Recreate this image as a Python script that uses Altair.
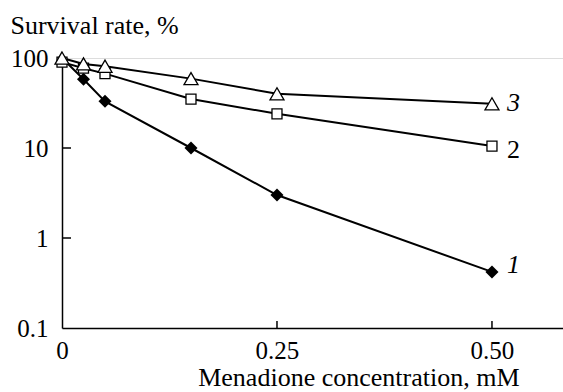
import altair as alt
import pandas as pd

# ---- data ----
conc = [0, 0.025, 0.05, 0.15, 0.25, 0.5]
s1 = [100, 58, 33, 10, 3.0, 0.42]      # curve 1 (filled diamonds)
s2 = [90, 77, 67, 35, 24, 10.5]        # curve 2 (open squares)
s3 = [100, 86, 81, 59, 40, 31]         # curve 3 (open triangles)

label_text = ["1", "2", "3"]
label_x = [0.525, 0.525, 0.525]
label_y = [0.5, 9.5, 32]

x_ticks = [0.25, 0.5]
y_ticks = [1, 10]

rows = []
for name, vals in (("1", s1), ("2", s2), ("3", s3)):
    for c, v in zip(conc, vals):
        rows.append({"conc": c, "rate": v, "series": name})
df = pd.DataFrame(rows)
labels = pd.DataFrame({"text": label_text, "conc": label_x, "rate": label_y})
xt = pd.DataFrame({"conc": x_ticks})
yt = pd.DataFrame({"rate": y_ticks})

FONT = "'Liberation Serif', 'Times New Roman', serif"
W, H = 501, 270

xscale = alt.Scale(domain=[0, 0.5826], nice=False, zero=False)
yscale = alt.Scale(type="log", domain=[0.1, 100], nice=False)

X = alt.X("conc:Q", scale=xscale, axis=alt.Axis(
    values=[0, 0.25, 0.5],
    labelExpr="datum.value == 0 ? '0' : format(datum.value, '.2f')",
    ticks=False, grid=False, domainColor="black", domainWidth=1.5,
    labelFontSize=25, labelColor="black", labelFont=FONT, labelPadding=10,
    labelFlush=False,
    title="Menadione concentration, mM", titleFont=FONT, titleFontSize=26,
    titleFontWeight="normal", titleColor="black", titleAlign="right",
    titleAnchor="start", titleX=457, titleY=57, titleBaseline="alphabetic"))
Y = alt.Y("rate:Q", scale=yscale, axis=alt.Axis(
    values=[0.1, 1, 10, 100], format="~g",
    ticks=False, grid=False, domainColor="black", domainWidth=1.5,
    labelFontSize=25, labelColor="black", labelFont=FONT, labelPadding=14,
    labelBaseline="middle", labelFlush=False,
    title="Survival rate, %", titleFont=FONT, titleFontSize=26,
    titleFontWeight="normal", titleColor="black", titleAngle=0,
    titleAlign="left", titleAnchor="start", titleX=-52, titleY=-33,
    titleBaseline="middle"))

base = alt.Chart(df)
lines = base.mark_line(color="black", strokeWidth=2).encode(
    x=X, y=Y, detail="series:N")

p1 = base.transform_filter("datum.series == '1' && datum.conc > 0").mark_point(
    shape="diamond", filled=True, color="black", size=170, opacity=1).encode(x="conc:Q", y="rate:Q")
p2 = base.transform_filter("datum.series == '2'").mark_point(
    shape="square", filled=True, fill="white", stroke="black", strokeWidth=1.3,
    size=100, opacity=1).encode(x="conc:Q", y="rate:Q")
p3 = base.transform_filter("datum.series == '3'").mark_point(
    shape="triangle-up", filled=True, fill="white", stroke="black", strokeWidth=1.3,
    size=196, opacity=1).encode(x="conc:Q", y="rate:Q")

lab_it = alt.Chart(labels).transform_filter("datum.text != '2'").mark_text(
    font=FONT, fontSize=26, fontStyle="italic", color="black", align="center",
    baseline="middle").encode(x="conc:Q", y="rate:Q", text="text:N")
lab_up = alt.Chart(labels).transform_filter("datum.text == '2'").mark_text(
    font=FONT, fontSize=26, color="black", align="center",
    baseline="middle").encode(x="conc:Q", y="rate:Q", text="text:N")

xtick = alt.Chart(xt).mark_rule(color="black", strokeWidth=1.5).encode(
    x="conc:Q", y=alt.value(H), y2=alt.value(H - 7))
ytick = alt.Chart(yt).mark_rule(color="black", strokeWidth=1.5).encode(
    y="rate:Q", x=alt.value(0), x2=alt.value(9))

chart = alt.layer(lines, xtick, ytick, p1, p2, p3, lab_it, lab_up).properties(
    width=W, height=H,
    autosize=alt.AutoSizeParams(type="none"),
    padding={"left": 62, "top": 58, "right": 0, "bottom": 64},
).configure_view(stroke=None).configure(background="white")

chart.save("out.html", embed_options={"renderer": "svg", "actions": False})
